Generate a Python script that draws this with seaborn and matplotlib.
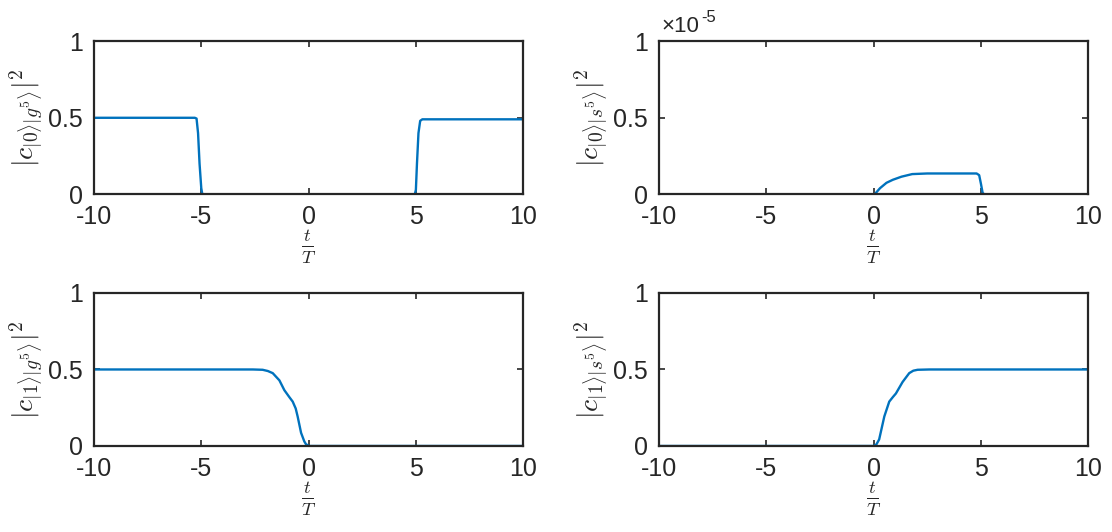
import numpy as np
import pandas as pd
import matplotlib
matplotlib.use("Agg")
import matplotlib.pyplot as plt
import seaborn as sns

# ---- data ----
t_g0 = [-10, -5.3, -5.22, -5.15, -5.08, -5.0, -4.95, 4.95, 5.0, 5.05, 5.12, 5.2, 5.3, 10]
p_g0 = [0.5, 0.5, 0.495, 0.4, 0.2, 0.04, 0.0, 0.0, 0.03, 0.2, 0.4, 0.48, 0.49, 0.49]

t_s0 = [-10, 0.05, 0.3, 0.6, 0.9, 1.3, 1.8, 2.5, 4.8, 4.92, 5.0, 5.08, 5.15, 10]
p_s0 = [0, 0, 0.04e-5, 0.075e-5, 0.095e-5, 0.115e-5, 0.132e-5, 0.136e-5, 0.136e-5,
        0.125e-5, 0.07e-5, 0.01e-5, 0, 0]

t_g1 = [-10, -2.6, -2.14, -1.9, -1.67, -1.36, -1.13, -0.9, -0.74, -0.6, -0.51,
        -0.35, -0.2, -0.12, 0.03, 10]
p_g1 = [0.5, 0.5, 0.498, 0.49, 0.476, 0.429, 0.365, 0.32, 0.29, 0.245, 0.193,
        0.086, 0.03, 0.011, 0.0, 0.0]

t_s1 = [-10, 0.0, 0.13, 0.26, 0.5, 0.73, 0.9, 1.04, 1.35, 1.66, 1.85, 2.05, 2.6, 10]
p_s1 = [0, 0, 0.01, 0.043, 0.193, 0.29, 0.32, 0.343, 0.418, 0.476, 0.492, 0.498, 0.5, 0.5]

ylabels = [r"$|c_{|0\rangle|g^5\rangle}|^2$", r"$|c_{|0\rangle|s^5\rangle}|^2$",
           r"$|c_{|1\rangle|g^5\rangle}|^2$", r"$|c_{|1\rangle|s^5\rangle}|^2$"]

sns.set_theme(style="ticks")
plt.rcParams["font.family"] = ["Liberation Sans", "DejaVu Sans"]
plt.rcParams["mathtext.fontset"] = "cm"

blue = "#0072BD"
edge = "#262626"

fig = plt.figure(figsize=(11.12, 5.32), dpi=100)
lefts = [0.0845, 0.5926]
bottoms = [0.6348, 0.1617]
w, h = 0.386, 0.2876

series = [(t_g0, p_g0), (t_s0, p_s0), (t_g1, p_g1), (t_s1, p_s1)]
for i, (t, p) in enumerate(series):
    row, col = divmod(i, 2)
    ax = fig.add_axes([lefts[col], bottoms[row], w, h])
    df = pd.DataFrame({"t": t, "p": p})
    scale = 1e5 if i == 1 else 1.0
    df["p"] = df["p"] * scale
    sns.lineplot(data=df, x="t", y="p", ax=ax, color=blue, linewidth=1.7,
                 estimator=None, sort=False)
    ax.set_xlim(-10, 10)
    ax.set_ylim(0, 1)
    ax.set_xticks([-10, -5, 0, 5, 10])
    ax.set_xticklabels(["-10", "-5", "0", "5", "10"])
    ax.set_yticks([0, 0.5, 1])
    ax.set_yticklabels(["0", "0.5", "1"])
    ax.tick_params(direction="in", length=4, width=1.2, colors=edge,
                   labelsize=18, pad=8, top=True, right=True)
    for s in ax.spines.values():
        s.set_color(edge)
        s.set_linewidth(1.6)
    ax.set_xlabel(r"$\frac{t}{T}$", fontsize=19, labelpad=-1)
    ax.set_ylabel(ylabels[i], fontsize=20, labelpad=2)
    if i == 1:
        ax.text(0.005, 1.025, "\u00d710", transform=ax.transAxes,
                fontsize=16, ha="left", va="bottom", color=edge)
        ax.text(0.098, 1.105, "-5", transform=ax.transAxes,
                fontsize=12, ha="left", va="bottom", color=edge)

fig.savefig("out.png", dpi=100)
